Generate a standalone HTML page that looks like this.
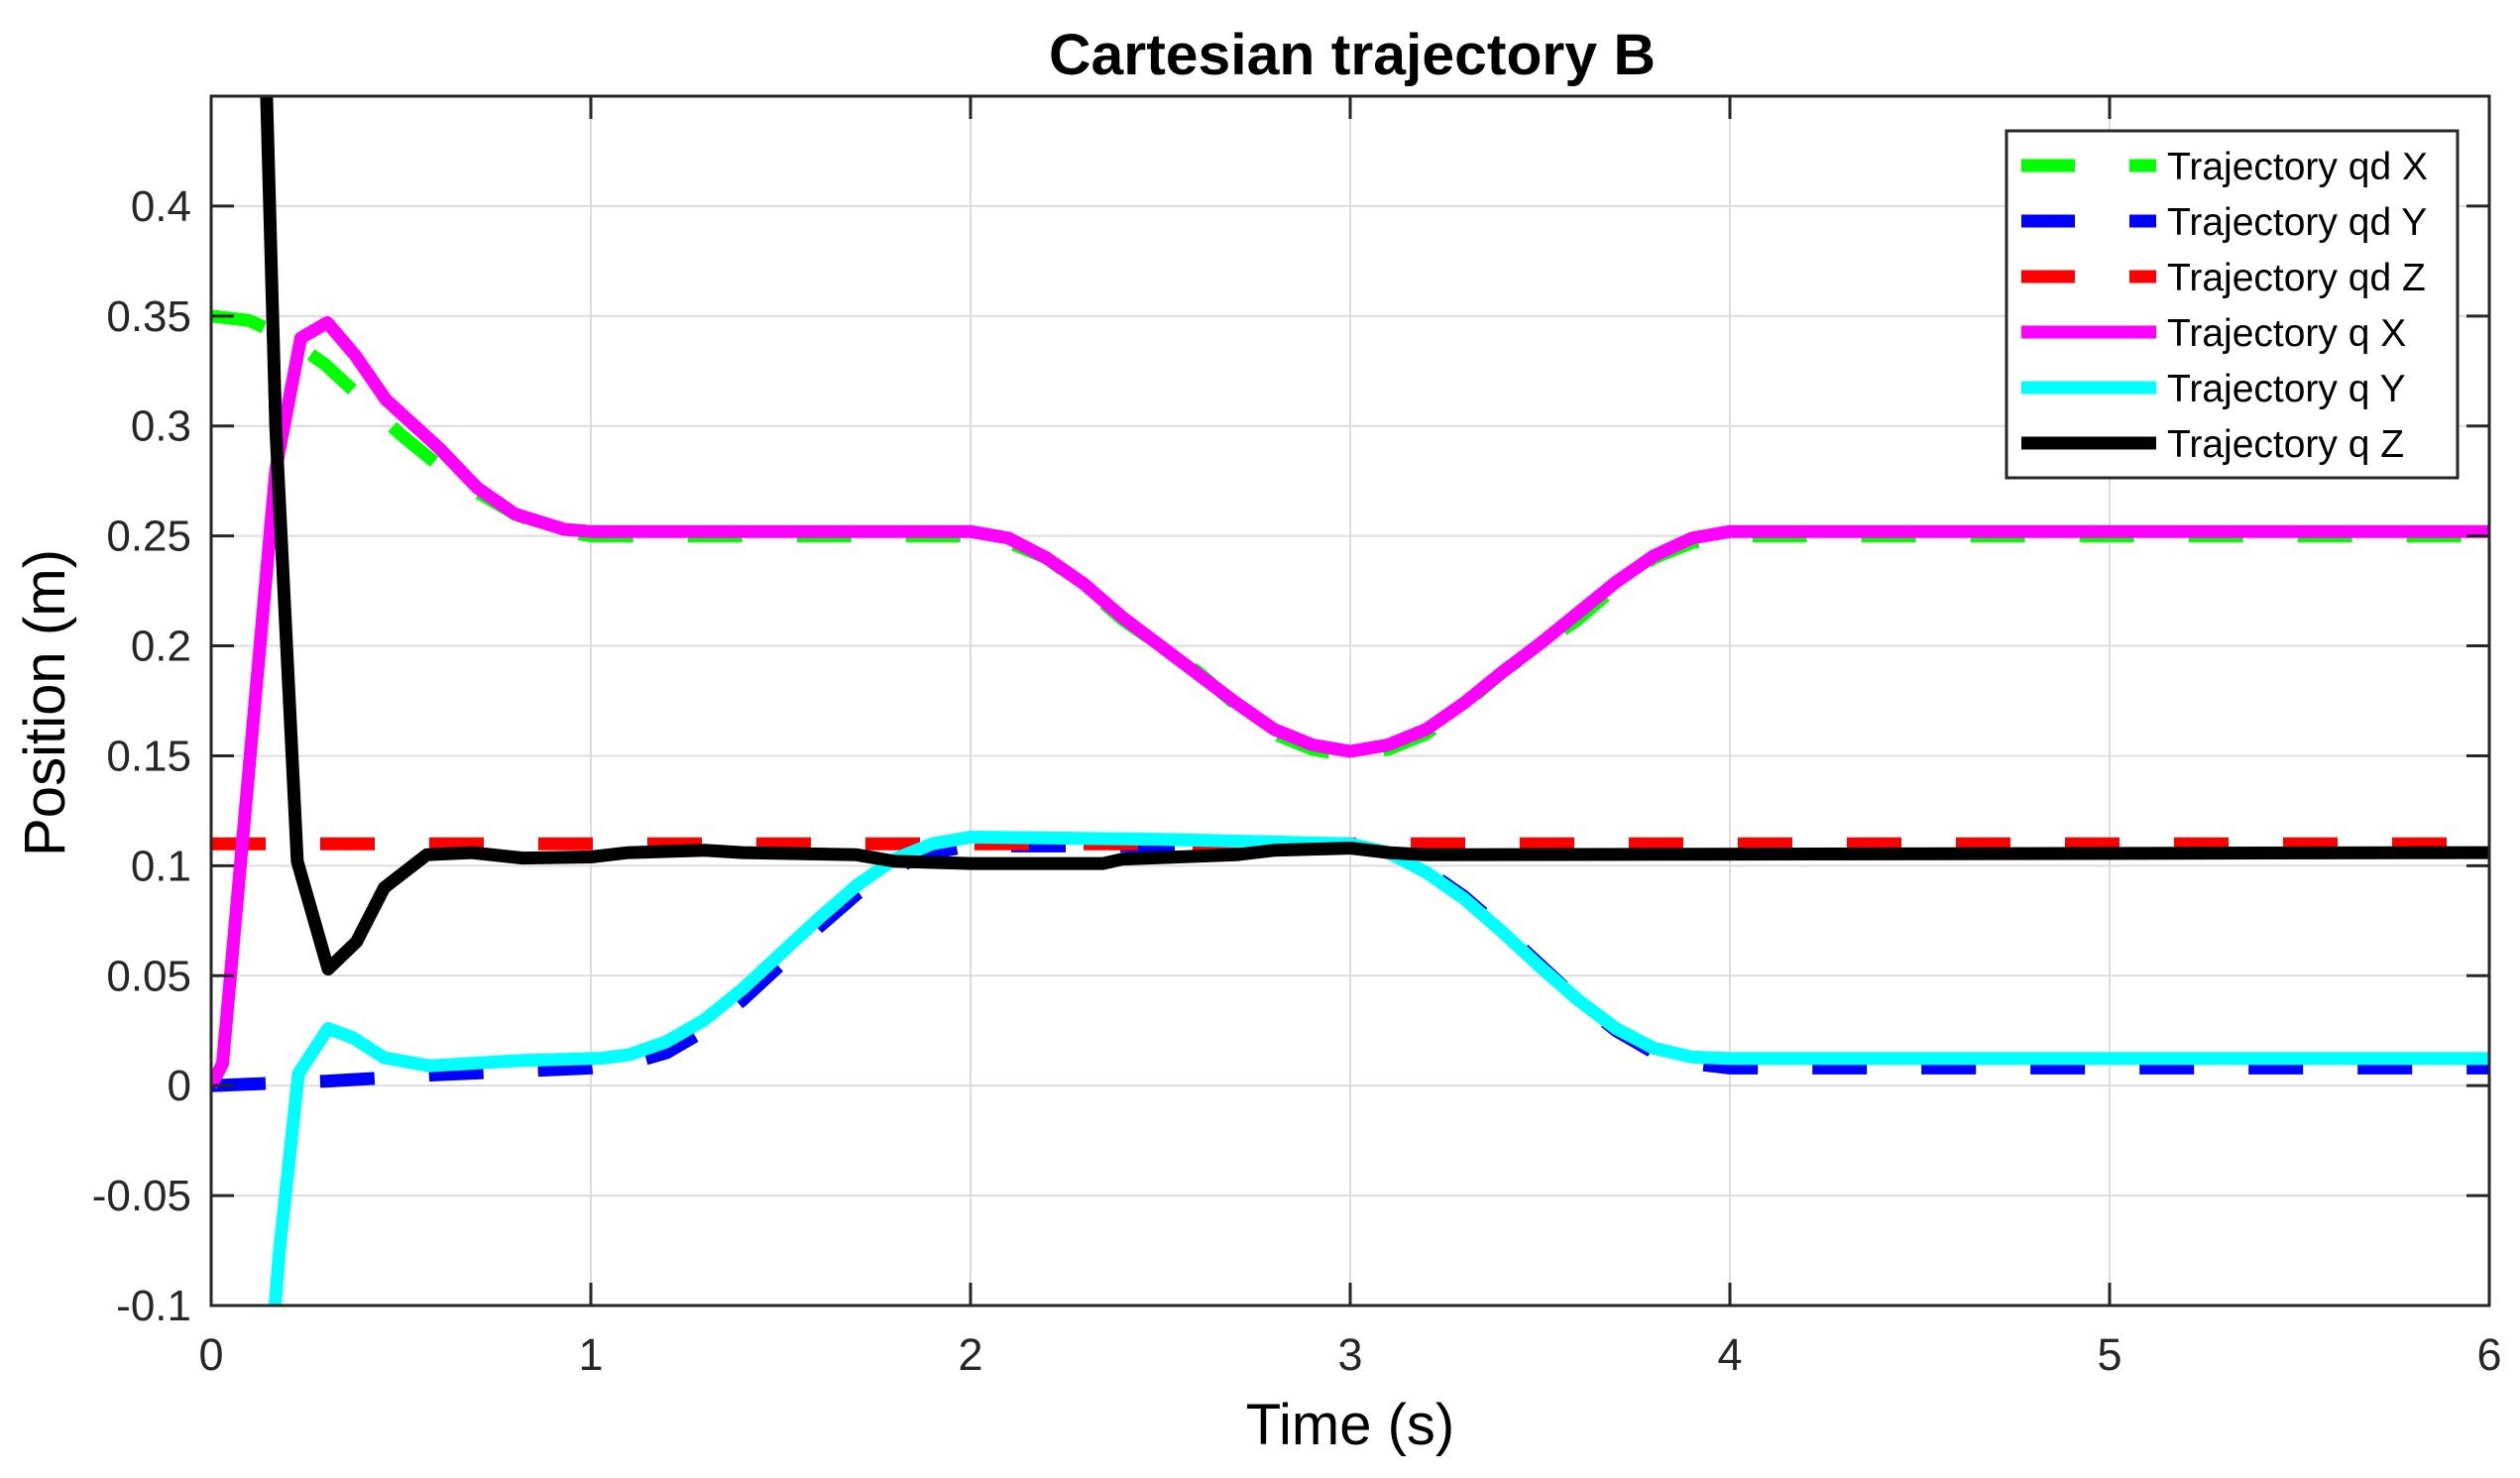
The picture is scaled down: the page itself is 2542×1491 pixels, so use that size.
<!DOCTYPE html>
<html><head><meta charset="utf-8"><style>
html,body{margin:0;padding:0;background:#fff;}
svg{display:block;font-family:"Liberation Sans",Arial,sans-serif;}
</style></head><body>
<svg id="chart" width="2542" height="1491" viewBox="0 0 2542 1491" xmlns="http://www.w3.org/2000/svg">
<rect width="2542" height="1491" fill="#fff"/>
<defs><clipPath id="plotclip"><rect x="213" y="97" width="2298" height="1220"/></clipPath></defs>
<g id="grid"></g>
<g id="series" clip-path="url(#plotclip)"></g>
<rect x="213" y="97" width="2298" height="1220" fill="none" stroke="#262626" stroke-width="3"/>
<g id="ticks"></g>
<text x="1364" y="75" text-anchor="middle" font-size="58" font-weight="bold" textLength="612" lengthAdjust="spacingAndGlyphs">Cartesian trajectory B</text>
<text x="1362" y="1457" text-anchor="middle" font-size="58" fill="#000">Time (s)</text>
<text x="0" y="0" transform="translate(65,709) rotate(-90)" text-anchor="middle" font-size="58" fill="#000" textLength="310" lengthAdjust="spacingAndGlyphs">Position (m)</text>
<g id="legend"></g>
</svg>
<script>
const xTicks=[0,1,2,3,4,5,6];
const yTicks=[-0.1,-0.05,0,0.05,0.1,0.15,0.2,0.25,0.3,0.35,0.4];
const yTickLabels=["-0.1","-0.05","0","0.05","0.1","0.15","0.2","0.25","0.3","0.35","0.4"];
const tQdX=[0,0.1,0.2,0.3,0.4,0.5,0.6,0.7,0.8,0.9,1.0,2.0,2.1,2.2,2.3,2.4,2.5,2.6,2.7,2.8,2.9,3.0,3.1,3.2,3.3,3.4,3.5,3.6,3.7,3.8,3.9,4.0,6.0];
const qdX=[0.35,0.348,0.34,0.328,0.312,0.296,0.282,0.27,0.26,0.253,0.25,0.25,0.247,0.24,0.227,0.212,0.2,0.188,0.173,0.16,0.153,0.15,0.153,0.16,0.173,0.188,0.2,0.212,0.227,0.24,0.247,0.25,0.25];
const tQdY=[0,0.3,0.6,1.0,1.1,1.2,1.3,1.4,1.5,1.6,1.7,1.8,1.9,2.0,3.0,3.1,3.2,3.3,3.4,3.5,3.6,3.7,3.8,3.9,4.0,6.0];
const qdY=[0,0.002,0.005,0.008,0.01,0.015,0.025,0.039,0.055,0.072,0.087,0.099,0.106,0.109,0.109,0.106,0.098,0.086,0.071,0.055,0.039,0.025,0.015,0.01,0.008,0.008];
const tQdZ=[0,6];
const qdZ=[0.11,0.11];
const tQX=[0,0.03,0.083,0.17,0.236,0.306,0.38,0.46,0.6,0.7,0.8,0.93,1.0,2.0,2.1,2.2,2.3,2.4,2.5,2.6,2.7,2.8,2.9,3.0,3.1,3.2,3.3,3.4,3.5,3.6,3.7,3.8,3.9,4.0,6.0];
const qX=[0.0,0.01,0.112,0.28,0.34,0.347,0.332,0.312,0.29,0.272,0.26,0.253,0.252,0.252,0.249,0.24,0.228,0.213,0.2,0.187,0.174,0.162,0.155,0.152,0.155,0.162,0.174,0.188,0.201,0.215,0.229,0.241,0.249,0.252,0.252];
const tQY=[0.15,0.18,0.23,0.308,0.374,0.456,0.574,0.82,1.03,1.1,1.2,1.3,1.4,1.5,1.6,1.7,1.8,1.9,2.0,2.5,3.0,3.1,3.2,3.3,3.4,3.5,3.6,3.7,3.8,3.9,4.0,6.0];
const qY=[-0.14,-0.075,0.0055,0.026,0.0217,0.0127,0.009,0.0115,0.0125,0.014,0.02,0.03,0.044,0.06,0.076,0.091,0.103,0.11,0.113,0.112,0.11,0.106,0.097,0.085,0.07,0.054,0.039,0.026,0.017,0.013,0.0123,0.0123];
const tQZ=[0.13,0.146,0.17,0.227,0.308,0.383,0.456,0.568,0.686,0.82,1.0,1.1,1.3,1.4,1.7,1.8,2.0,2.35,2.4,2.7,2.8,3.0,3.1,3.2,6.0];
const qZ=[0.6,0.45,0.3,0.102,0.053,0.0655,0.09,0.105,0.106,0.1035,0.104,0.106,0.107,0.106,0.105,0.102,0.101,0.101,0.103,0.105,0.107,0.108,0.106,0.105,0.106];
const legendLabels=["Trajectory qd X","Trajectory qd Y","Trajectory qd Z","Trajectory q X","Trajectory q Y","Trajectory q Z"];

const NS="http://www.w3.org/2000/svg";
const X0=213,X1=2511,Y0=1317,Y1=97,xmin=0,xmax=6,ymin=-0.1,ymax=0.45;
function sx(t){return X0+(t-xmin)/(xmax-xmin)*(X1-X0);}
function sy(v){return Y0-(v-ymin)/(ymax-ymin)*(Y0-Y1);}
function mk(tag,attrs,parent){const e=document.createElementNS(NS,tag);for(const k in attrs)e.setAttribute(k,attrs[k]);parent.appendChild(e);return e;}
const grid=document.getElementById('grid'),ticks=document.getElementById('ticks'),series=document.getElementById('series'),legend=document.getElementById('legend');
xTicks.forEach(t=>{
  const x=sx(t);
  const g=mk('line',{x1:x,x2:x,y1:Y1,y2:Y0,stroke:'#dcdcdc','stroke-width':2},grid);
  
  
  const a=mk('line',{x1:x,x2:x,y1:Y0,y2:Y0-23,stroke:'#262626','stroke-width':3},ticks);
  
  
  const b=mk('line',{x1:x,x2:x,y1:Y1,y2:Y1+23,stroke:'#262626','stroke-width':3},ticks);
  
  
  const l=mk('text',{x:x,y:1382,'text-anchor':'middle','font-size':45,fill:'#262626'},ticks);
  l.textContent=String(t);
  
  
});
yTicks.forEach((v,i)=>{
  const y=sy(v);
  const g=mk('line',{x1:X0,x2:X1,y1:y,y2:y,stroke:'#dcdcdc','stroke-width':2},grid);
  
  
  const a=mk('line',{x1:X0,x2:X0+23,y1:y,y2:y,stroke:'#262626','stroke-width':3},ticks);
  
  
  const b=mk('line',{x1:X1,x2:X1-23,y1:y,y2:y,stroke:'#262626','stroke-width':3},ticks);
  
  
  const l=mk('text',{x:193,y:y+15,'text-anchor':'end','font-size':44,fill:'#262626'},ticks);
  l.textContent=yTickLabels[i];
  
  
});
const defs=[
 {t:tQdX,v:qdX,c:'#00ff00',dash:true,name:'trajectory-qd-x-line'},
 {t:tQdY,v:qdY,c:'#0000ff',dash:true,name:'trajectory-qd-y-line'},
 {t:tQdZ,v:qdZ,c:'#ff0000',dash:true,name:'trajectory-qd-z-line'},
 {t:tQX,v:qX,c:'#ff00ff',dash:false,name:'trajectory-q-x-line'},
 {t:tQY,v:qY,c:'#00ffff',dash:false,name:'trajectory-q-y-line'},
 {t:tQZ,v:qZ,c:'#000000',dash:false,name:'trajectory-q-z-line'}
];
const order=[0,1,2,3,4,5];
order.forEach(i=>{
  const d=defs[i];
  const pts=d.t.map((t,j)=>sx(t).toFixed(1)+','+sy(d.v[j]).toFixed(1)).join(' ');
  const p=mk('polyline',{points:pts,fill:'none',stroke:d.c,'stroke-width':13,'stroke-linejoin':'round','stroke-linecap':'butt'},series);
  if(d.dash)p.setAttribute('stroke-dasharray','55 55');
  
  
});
const box=mk('rect',{x:2024,y:132,width:455,height:350,fill:'#fff',stroke:'#262626','stroke-width':3},legend);


legendLabels.forEach((lab,i)=>{
  const y=167+i*56;
  const d=defs[i];
  const g=mk('g',{},legend);
  
  
  if(d.dash){
    mk('line',{x1:2039,x2:2093,y1:y,y2:y,stroke:d.c,'stroke-width':13},g);
    mk('line',{x1:2148,x2:2175,y1:y,y2:y,stroke:d.c,'stroke-width':13},g);
  } else {
    mk('line',{x1:2039,x2:2175,y1:y,y2:y,stroke:d.c,'stroke-width':13},g);
  }
  const t=mk('text',{x:2186,y:y+14,'font-size':39,fill:'#000'},g);
  t.textContent=lab;
});
</script>
</body></html>
